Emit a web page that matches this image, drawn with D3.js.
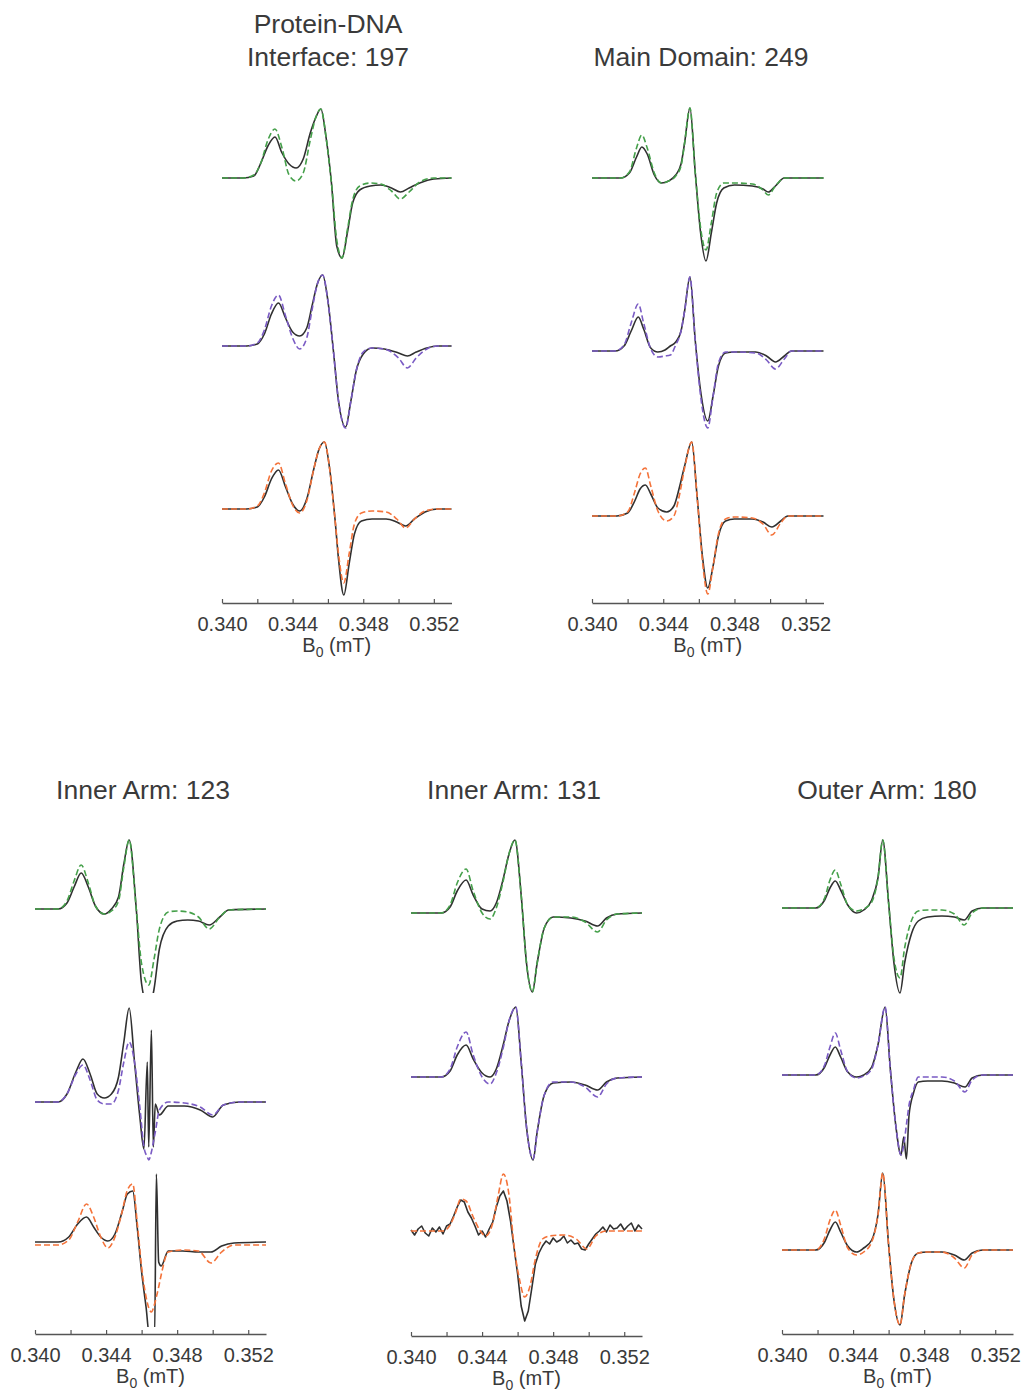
<!DOCTYPE html>
<html>
<head>
<meta charset="utf-8">
<script src="https://cdn.jsdelivr.net/npm/d3@7"></script>
<style>
  body { margin: 0; background: #fff; }
  svg text { font-family: "Liberation Sans", Arial, Helvetica, sans-serif; fill: #3a3a3a; }
</style>
</head>
<body>
<div id="chart"></div>
<script>
// ---- data: field (B0) values and spectra in arbitrary units (+ up) ----
var fieldDomain = [0.340, 0.353];
var tickValues = [0.340, 0.342, 0.344, 0.346, 0.348, 0.350, 0.352];
var tickLabels = ["0.340", "", "0.344", "", "0.348", "", "0.352"];
var panelTitles = [["Protein-DNA", "Interface: 197"], ["Main Domain: 249"], ["Inner Arm: 123"], ["Inner Arm: 131"], ["Outer Arm: 180"]];

// Protein-DNA interface 197
var fieldsA1 = [0.3400, 0.3412, 0.3418, 0.3422, 0.3426, 0.3430, 0.3434, 0.3438, 0.3442, 0.3446, 0.3450, 0.3453, 0.3456, 0.3459, 0.3462, 0.3465, 0.3468, 0.3471, 0.3474, 0.3478, 0.3484, 0.3490, 0.3496, 0.3501, 0.3506, 0.3512, 0.3520, 0.3530];
var expA1 = [0, 0, 2, 15, 32, 41, 25, 14, 10, 19, 45, 60, 69, 40, -5, -68, -80, -55, -25, -12, -8, -7, -10, -14, -10, -5, -1, 0];
var simA1 = [0, 0, 3, 15, 38, 49, 30, 3, -3, 5, 38, 60, 69, 40, -5, -62, -80, -52, -22, -8, -5, -6, -13, -21, -14, -4, 0, 0];
var fieldsA2 = [0.3400, 0.3414, 0.3420, 0.3424, 0.3428, 0.3432, 0.3436, 0.3440, 0.3444, 0.3448, 0.3451, 0.3454, 0.3457, 0.3460, 0.3463, 0.3466, 0.3470, 0.3473, 0.3476, 0.3480, 0.3485, 0.3492, 0.3500, 0.3505, 0.3510, 0.3516, 0.3522, 0.3530];
var expA2 = [0, 0, 2, 12, 32, 43, 28, 14, 10, 18, 40, 62, 71, 45, -3, -55, -81, -55, -25, -8, -2, -3, -7, -10, -6, -2, 0, 0];
var simA2 = [0, 0, 3, 16, 40, 51, 30, 8, -3, 8, 36, 62, 71, 45, -3, -55, -82, -55, -25, -6, -2, -3, -12, -22, -12, -3, 0, 0];
var fieldsA3 = [0.3400, 0.3414, 0.3420, 0.3424, 0.3428, 0.3432, 0.3436, 0.3440, 0.3444, 0.3448, 0.3452, 0.3455, 0.3458, 0.3461, 0.3464, 0.3466, 0.3469, 0.3472, 0.3475, 0.3479, 0.3485, 0.3493, 0.3499, 0.3504, 0.3509, 0.3515, 0.3522, 0.3530];
var expA3 = [0, 0, 2, 12, 30, 39, 22, 5, -2, 10, 40, 60, 67, 40, -10, -50, -86, -55, -25, -12, -10, -10, -13, -17, -10, -3, 0, 0];
var simA3 = [0, 0, 3, 16, 38, 46, 25, 4, -4, 8, 40, 60, 67, 40, -10, -45, -74, -45, -15, -4, -2, -3, -10, -19, -10, -2, 0, 0];

// Main domain 249
var fieldsB1 = [0.3400, 0.3416, 0.3421, 0.3425, 0.3428, 0.3431, 0.3435, 0.3439, 0.3443, 0.3447, 0.3450, 0.3452, 0.3455, 0.3458, 0.3461, 0.3464, 0.3467, 0.3470, 0.3474, 0.3480, 0.3490, 0.3496, 0.3499, 0.3503, 0.3508, 0.3530];
var expB1 = [0, 0, 5, 21, 31, 24, 3, -5, -3, 3, 14, 35, 70, 5, -55, -83, -55, -25, -10, -7, -8, -11, -14, -8, 0, 0];
var simB1 = [0, 0, 6, 30, 43, 30, 5, -5, -3, 2, 12, 35, 70, 5, -50, -72, -45, -15, -5, -5, -6, -12, -17, -8, 0, 0];
var fieldsB2 = [0.3400, 0.3413, 0.3418, 0.3422, 0.3426, 0.3429, 0.3433, 0.3437, 0.3441, 0.3444, 0.3447, 0.3450, 0.3452, 0.3455, 0.3458, 0.3461, 0.3465, 0.3468, 0.3471, 0.3475, 0.3480, 0.3492, 0.3498, 0.3503, 0.3508, 0.3512, 0.3530];
var expB2 = [0, 0, 5, 20, 34, 22, 3, -1, 1, 5, 9, 20, 40, 74, 10, -40, -70, -45, -15, -2, -1, -1, -5, -11, -5, 0, 0];
var simB2 = [0, 0, 6, 28, 47, 28, 2, -6, -5, -4, 6, 20, 40, 74, 10, -45, -77, -45, -12, -1, -1, -2, -9, -18, -8, 0, 0];
var fieldsB3 = [0.3400, 0.3414, 0.3420, 0.3424, 0.3427, 0.3430, 0.3433, 0.3437, 0.3442, 0.3446, 0.3449, 0.3452, 0.3456, 0.3459, 0.3462, 0.3465, 0.3468, 0.3471, 0.3475, 0.3480, 0.3490, 0.3496, 0.3501, 0.3506, 0.3510, 0.3530];
var expB3 = [0, 0, 3, 15, 27, 31, 22, 8, 4, 10, 28, 50, 74, 20, -40, -72, -50, -20, -5, -3, -3, -6, -11, -5, 0, 0];
var simB3 = [0, 0, 4, 24, 42, 48, 30, 5, -5, 0, 20, 48, 74, 20, -45, -78, -50, -18, -3, -1, -2, -8, -19, -7, 0, 0];

// Inner arm 123
var fieldsC1 = [0.3400, 0.3413, 0.3418, 0.3422, 0.3426, 0.3430, 0.3434, 0.3439, 0.3443, 0.3447, 0.3450, 0.3453, 0.3457, 0.3460, 0.3464, 0.3467, 0.3470, 0.3475, 0.3480, 0.3486, 0.3492, 0.3498, 0.3504, 0.3509, 0.3530];
var expC1 = [0, 0, 6, 22, 36, 22, 3, -5, 0, 12, 45, 69, 0, -75, -100, -80, -40, -17, -12, -11, -12, -16, -8, -1, 0];
var simC1 = [0, 0, 8, 28, 44, 26, 3, -5, -2, 8, 42, 69, 0, -55, -76, -50, -20, -3, -2, -3, -8, -20, -8, -1, 0];
var fieldsC2 = [0.3400, 0.3413, 0.3418, 0.3423, 0.3427, 0.3431, 0.3435, 0.3439, 0.3443, 0.3447, 0.3450, 0.3453, 0.3456, 0.3459, 0.34613, 0.34632, 0.3464, 0.34655, 0.34666, 0.34677, 0.3470, 0.3475, 0.3484, 0.3493, 0.3500, 0.3506, 0.3515, 0.3530];
var expC2 = [0, 0, 8, 30, 43, 28, 8, 4, 8, 25, 60, 94, 40, -15, -47, 40, -45, 72, -45, -2, -13, -4, -4, -8, -15, -3, 0, 0];
var simC2 = [0, 0, 8, 28, 37, 22, 2, -2, -2, 12, 40, 60, 40, -5, -45, -55, -58, -50, -40, -30, -8, 0, -1, -5, -13, -3, 0, 0];
var fieldsC3 = [0.3400, 0.3413, 0.3419, 0.3424, 0.3429, 0.3433, 0.3437, 0.3441, 0.3445, 0.3449, 0.3452, 0.3455, 0.34575, 0.3460, 0.34625, 0.34645, 0.34655, 0.34673, 0.34683, 0.34696, 0.3471, 0.3475, 0.3483, 0.3492, 0.3499, 0.3505, 0.3512, 0.3530];
var expC3 = [0, 0, 5, 18, 25, 15, 5, 1, 8, 30, 48, 51, 15, -30, -65, -95, -95, -95, 68, -20, -24, -9, -9, -10, -10, -4, -1, 0];
var simC3 = [-3, -3, 2, 20, 38, 25, 5, -6, 5, 30, 52, 58, 20, -25, -55, -68, -70, -62, -55, -45, -33, -10, -8, -9, -21, -10, -3, -3];

// Inner arm 131
var fieldsD1 = [0.3400, 0.3417, 0.3422, 0.3426, 0.3431, 0.3435, 0.3440, 0.34445, 0.3448, 0.3452, 0.3455, 0.34585, 0.3462, 0.3465, 0.34683, 0.3471, 0.3475, 0.3480, 0.3490, 0.3498, 0.3505, 0.3510, 0.3516, 0.3530];
var expD1 = [0, 0, 6, 22, 33, 18, 4, 2, 10, 35, 58, 73, 18, -50, -79, -50, -15, -4, -5, -8, -13, -5, -1, 0];
var simD1 = [0, 0, 8, 30, 44, 22, 0, -6, 5, 33, 58, 73, 18, -50, -79, -50, -15, -4, -4, -9, -19, -7, -1, 0];
var fieldsD2 = [0.3400, 0.3417, 0.3422, 0.3426, 0.3431, 0.3435, 0.3440, 0.34445, 0.3448, 0.3452, 0.3455, 0.3459, 0.3462, 0.3465, 0.34687, 0.3471, 0.3475, 0.3480, 0.3490, 0.3498, 0.3505, 0.3510, 0.3516, 0.3530];
var expD2 = [0, 0, 6, 22, 32, 18, 4, 0, 8, 33, 55, 70, 15, -50, -83, -55, -18, -6, -5, -8, -13, -5, -1, 0];
var simD2 = [0, 0, 8, 30, 45, 22, 0, -7, 4, 30, 55, 70, 15, -50, -82, -55, -18, -5, -5, -10, -20, -7, -1, 0];
var fieldsD3exp = [0.3400, 0.3402, 0.3404, 0.3406, 0.3408, 0.3410, 0.3412, 0.3414, 0.3416, 0.3418,
                   0.3420, 0.3422, 0.3424, 0.3426, 0.3428, 0.3430, 0.3432, 0.3434, 0.3436, 0.3438,
                   0.3440, 0.3442, 0.3444, 0.3446, 0.3448, 0.3450, 0.3452, 0.3454, 0.3456, 0.3458,
                   0.3460, 0.3462, 0.3464, 0.3466, 0.3468, 0.3470, 0.3472, 0.3474, 0.3476, 0.3478,
                   0.3480, 0.3482, 0.3484, 0.3486, 0.3488, 0.3490, 0.3492, 0.3494, 0.3496, 0.3498,
                   0.3500, 0.3502, 0.3504, 0.3506, 0.3508, 0.3510, 0.3512, 0.3514, 0.3516, 0.3518,
                   0.3520, 0.3522, 0.3524, 0.3526, 0.3528, 0.3530];
var expD3 = [1, -4, 2, 5, -2, -5, 3, -1, 4, -3,
             5, 7, 15, 24, 31, 29, 19, 13, 5, -4,
             0, -6, 2, 9, 24, 35, 40, 30, 10, -17,
             -43, -75, -90, -80, -57, -33, -22, -15, -10, -13,
             -7, -11, -9, -5, -12, -9, -13, -12, -18, -19,
             -13, -8, -3, 0, 4, -1, 6, 2, 3, 7,
             1, 5, 8, 0, 6, 2];
var fieldsD3sim = [0.3400, 0.3418, 0.3422, 0.3425, 0.3428, 0.3431, 0.3435, 0.3439, 0.3442, 0.3446, 0.3449, 0.3452, 0.3455, 0.3458, 0.3461, 0.3464, 0.3467, 0.3470, 0.3474, 0.3478, 0.3486, 0.3493, 0.3499, 0.3504, 0.3510, 0.3530];
var simD3 = [0, 0, 6, 18, 32, 30, 14, 0, -5, 8, 35, 57, 38, -15, -48, -66, -55, -28, -8, -5, -4, -8, -18, -5, 0, 0];

// Outer arm 180
var fieldsE1 = [0.3400, 0.3419, 0.3424, 0.3427, 0.3430, 0.3433, 0.3437, 0.3442, 0.3446, 0.34505, 0.3454, 0.34567, 0.3460, 0.3463, 0.34664, 0.3469, 0.3473, 0.34767, 0.3482, 0.3490, 0.3497, 0.35026, 0.3507, 0.3513, 0.3530];
var expE1 = [0, 0, 8, 20, 27, 18, 3, -5, -2, 8, 30, 68, 5, -55, -85, -55, -25, -13, -9, -8, -9, -12, -3, 0, 0];
var simE1 = [0, 0, 10, 28, 38, 24, 3, -3, -1, 6, 30, 68, 5, -50, -70, -40, -12, -3, -2, -2, -6, -17, -5, 0, 0];
var fieldsE2 = [0.3400, 0.3419, 0.3424, 0.3427, 0.3430, 0.3433, 0.3437, 0.3442, 0.3446, 0.34505, 0.3454, 0.3458, 0.3461, 0.3464, 0.3467, 0.34685, 0.3470, 0.34715, 0.3474, 0.34767, 0.3482, 0.3490, 0.3497, 0.3503, 0.3507, 0.3513, 0.3530];
var expE2 = [0, 0, 8, 20, 28, 18, 3, -2, 0, 8, 30, 68, 5, -50, -80, -62, -84, -40, -18, -7, -6, -6, -8, -12, -3, 0, 0];
var simE2 = [0, 0, 10, 28, 42, 25, 3, -3, -1, 6, 30, 68, 5, -50, -80, -70, -50, -30, -15, -2, -2, -2, -6, -17, -5, 0, 0];
var fieldsE3 = [0.3400, 0.3419, 0.3424, 0.3427, 0.3430, 0.3433, 0.3437, 0.3442, 0.3446, 0.34505, 0.3454, 0.34567, 0.3460, 0.3463, 0.34664, 0.3469, 0.3473, 0.34767, 0.3482, 0.3490, 0.3497, 0.35026, 0.3507, 0.3513, 0.3530];
var expE3 = [0, 0, 8, 20, 28, 18, 4, -2, 2, 10, 35, 77, 5, -50, -75, -45, -12, -3, -2, -2, -5, -10, -3, 0, 0];
var simE3 = [0, 0, 12, 30, 40, 25, 2, -5, -2, 8, 35, 77, 5, -50, -75, -45, -12, -3, -2, -2, -8, -18, -5, 0, 0];

// ---- layout ----
var w = 1024, h = 1392;
var simColors = ["#45a04a", "#7a5bc4", "#f4733a"];
var expColor = "#303030";

var panels = [
  {xr: [222, 451.5], axisY: 603, titleX: 328, titleY: [33, 66], base: [178, 346, 509], clip: [null, null, null],
   rows: [[fieldsA1, expA1, fieldsA1, simA1], [fieldsA2, expA2, fieldsA2, simA2], [fieldsA3, expA3, fieldsA3, simA3]]},
  {xr: [592, 823.5], axisY: 603, titleX: 701, titleY: [66], base: [178, 351, 516], clip: [null, null, null],
   rows: [[fieldsB1, expB1, fieldsB1, simB1], [fieldsB2, expB2, fieldsB2, simB2], [fieldsB3, expB3, fieldsB3, simB3]]},
  {xr: [35, 266], axisY: 1334, titleX: 143, titleY: [799], base: [909, 1102, 1242], clip: [993, null, 1327],
   rows: [[fieldsC1, expC1, fieldsC1, simC1], [fieldsC2, expC2, fieldsC2, simC2], [fieldsC3, expC3, fieldsC3, simC3]]},
  {xr: [411, 642], axisY: 1336, titleX: 514, titleY: [799], base: [913, 1077, 1231], clip: [null, null, null],
   rows: [[fieldsD1, expD1, fieldsD1, simD1], [fieldsD2, expD2, fieldsD2, simD2], [fieldsD3exp, expD3, fieldsD3sim, simD3, true]]},
  {xr: [782, 1013], axisY: 1334, titleX: 887, titleY: [799], base: [908, 1075, 1250], clip: [null, null, null],
   rows: [[fieldsE1, expE1, fieldsE1, simE1], [fieldsE2, expE2, fieldsE2, simE2], [fieldsE3, expE3, fieldsE3, simE3]]}
];

var svg = d3.select("#chart").append("svg")
  .attr("width", w)
  .attr("height", h);

var defs = svg.append("defs");

panels.forEach(function(p, pi){
  var g = svg.append("g");
  var x = d3.scaleLinear().domain(fieldDomain).range(p.xr);

  // title
  panelTitles[pi].forEach(function(t, ti){
    g.append("text")
      .attr("x", p.titleX)
      .attr("y", p.titleY[ti])
      .attr("text-anchor", "middle")
      .style("font-size", "26.5px")
      .text(t);
  });

  p.rows.forEach(function(r, ri){
    var b = p.base[ri];
    var y = d3.scaleLinear().domain([-100, 100]).range([b + 100, b - 100]);
    var line = d3.line()
      .x(function(d){ return x(d[0]); })
      .y(function(d){ return y(d[1]); });

    var exp = g.append("path")
      .datum(d3.zip(r[0], r[1]))
      .attr("fill", "none")
      .attr("stroke", expColor)
      .attr("stroke-width", 1.6)
      .attr("stroke-linejoin", "round")
      .attr("d", line.curve(r[4] ? d3.curveLinear : d3.curveMonotoneX));

    // black trace runs off the bottom of its strip in a couple of rows
    if (p.clip[ri] != null) {
      var id = "clip" + pi + "_" + ri;
      defs.append("clipPath").attr("id", id)
        .append("rect")
          .attr("x", p.xr[0] - 5)
          .attr("y", b - 110)
          .attr("width", p.xr[1] - p.xr[0] + 10)
          .attr("height", p.clip[ri] - (b - 110));
      exp.attr("clip-path", "url(#" + id + ")");
    }

    g.append("path")
      .datum(d3.zip(r[2], r[3]))
      .attr("fill", "none")
      .attr("stroke", simColors[ri])
      .attr("stroke-width", 1.6)
      .attr("stroke-dasharray", "6,3")
      .attr("d", line.curve(d3.curveMonotoneX));
  });

  // axis
  var axis = d3.axisBottom(x)
    .tickValues(tickValues)
    .tickSizeInner(-4)
    .tickSizeOuter(0)
    .tickPadding(14)
    .tickFormat(function(d, i){ return tickLabels[i]; });

  var ag = g.append("g")
    .attr("transform", "translate(0," + p.axisY + ")")
    .call(axis);
  ag.select(".domain").attr("stroke", "#555").attr("stroke-width", 1.3);
  ag.selectAll(".tick line").attr("stroke", "#555").attr("stroke-width", 1.2);
  ag.selectAll(".tick text")
    .style("font-size", "20px")
    .style("font-family", "'Liberation Sans', Arial, sans-serif")
    .attr("fill", "#3a3a3a");

  var lbl = g.append("text")
    .attr("x", (p.xr[0] + p.xr[1]) / 2)
    .attr("y", p.axisY + 49)
    .attr("text-anchor", "middle")
    .style("font-size", "20px");
  lbl.append("tspan").text("B");
  lbl.append("tspan").attr("dy", 5).style("font-size", "14px").text("0");
  lbl.append("tspan").attr("dy", -5).text(" (mT)");
});
</script>
</body>
</html>
